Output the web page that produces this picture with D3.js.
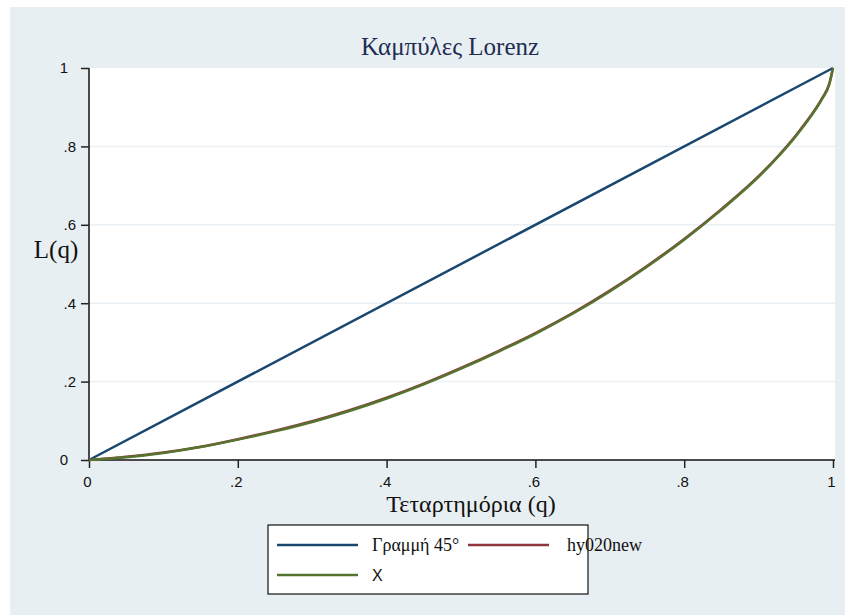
<!DOCTYPE html>
<html><head><meta charset="utf-8">
<script src="https://cdn.jsdelivr.net/npm/d3@7"></script>
<style>body{margin:0;background:#fff}svg{display:block}</style>
</head><body>
<script>
const qValues = [0,0.05,0.1,0.15,0.2,0.25,0.3,0.35,0.4,0.45,0.5,0.55,0.6,0.65,0.7,0.75,0.8,0.85,0.9,0.925,0.95,0.97,0.985,0.995,1];
const lineValues45 = [0,1];
const hy020newValues = [0,0.008,0.019,0.034,0.053,0.075,0.099,0.127,0.159,0.195,0.235,0.278,0.324,0.375,0.432,0.495,0.564,0.64,0.724,0.773,0.828,0.878,0.922,0.96,1];
const xValues = [0,0.007,0.018,0.033,0.052,0.073,0.097,0.125,0.157,0.193,0.233,0.276,0.322,0.373,0.43,0.493,0.562,0.638,0.722,0.771,0.826,0.876,0.92,0.958,1];
const tickValues = [0,0.2,0.4,0.6,0.8,1];
const tickLabels = ["0",".2",".4",".6",".8","1"];
const seriesNames = ["Γραμμή 45°","hy020new","X"];
const colors = ["#1a476f","#90353b","#55752f"];

const W=845,H=615;
const serif="'Liberation Serif','Times New Roman',serif";
const sans="'Liberation Sans',Arial,sans-serif";
const svg=d3.select("body").append("svg").attr("width",W).attr("height",H);
svg.append("rect").attr("x",10).attr("y",7).attr("width",W-10).attr("height",H-7).attr("fill","#e8eff2");

const x=d3.scaleLinear().domain([0,1]).range([89,833]);
const y=d3.scaleLinear().domain([0,1]).range([460,68]);

svg.append("rect").attr("x",89).attr("y",68).attr("width",746).attr("height",392).attr("fill","#fff");
svg.append("g").selectAll("line").data(tickValues.filter(v=>v>0&&v<1)).join("line")
  .attr("x1",89).attr("x2",835).attr("y1",d=>y(d)).attr("y2",d=>y(d))
  .attr("stroke","#eaf0f3").attr("stroke-width",1.5);

const fmt=d=>tickLabels[tickValues.indexOf(d)];
const gy=svg.append("g").attr("transform","translate(89,0)")
  .call(d3.axisLeft(y).tickValues(tickValues).tickFormat(fmt).tickSize(8).tickPadding(5));
const gx=svg.append("g").attr("transform","translate(0,460)")
  .call(d3.axisBottom(x).tickValues(tickValues).tickFormat(fmt).tickSize(8).tickPadding(8));
[gy,gx].forEach(g=>{
  g.select(".domain").attr("stroke","#4a4a4a").attr("stroke-width",2);
  g.selectAll(".tick line").attr("stroke","#222").attr("stroke-width",1.5);
  g.selectAll(".tick text").attr("font-family",sans).attr("font-size",15).attr("fill","#111");
});
gy.selectAll(".tick text").filter(d=>d===0||d===1).attr("dx",-8);
gx.selectAll(".tick text").attr("dx",-2);
gy.select(".domain").attr("d","M0,460V68");
gx.select(".domain").attr("d","M89,0H835");

const line=d3.line().x(d=>x(d[0])).y(d=>y(d[1]));
const diag=lineValues45.map(v=>[v,v]);
const redPts=qValues.map((q,i)=>[q,hy020newValues[i]]);
const greenPts=qValues.map((q,i)=>[q,xValues[i]]);
const curve=d3.line().x(d=>x(d[0])).y(d=>y(d[1])).curve(d3.curveMonotoneX);
svg.append("path").attr("d",line(diag)).attr("fill","none").attr("stroke",colors[0]).attr("stroke-width",2.5);
svg.append("path").attr("d",curve(redPts)).attr("fill","none").attr("stroke",colors[1]).attr("stroke-width",2.5);
svg.append("path").attr("d",curve(greenPts)).attr("fill","none").attr("stroke",colors[2]).attr("stroke-width",2.5);

svg.append("text").attr("x",450).attr("y",55).attr("text-anchor","middle")
  .attr("font-family",serif).attr("font-size",25).attr("fill","#1e2d52").text("Καμπύλες Lorenz");
svg.append("text").attr("x",56).attr("y",258).attr("text-anchor","middle")
  .attr("font-family",serif).attr("font-size",25).attr("fill","#111").text("L(q)");
svg.append("text").attr("x",471).attr("y",512).attr("text-anchor","middle")
  .attr("font-family",serif).attr("font-size",24).attr("fill","#111").text("Τεταρτημόρια (q)");

const lg=svg.append("g");
lg.append("rect").attr("x",268).attr("y",525).attr("width",320).attr("height",69).attr("fill","#fff").attr("stroke","#111").attr("stroke-width",1.2);
const items=[{x:277,y:545,tx:372,font:serif,fs:18},
             {x:468,y:545,tx:567,font:serif,fs:18},
             {x:277,y:575,tx:372,font:sans,fs:16}];
items.forEach((it,i)=>{
  lg.append("line").attr("x1",it.x).attr("x2",it.x+81).attr("y1",it.y).attr("y2",it.y).attr("stroke",colors[i]).attr("stroke-width",2.5);
  lg.append("text").attr("x",it.tx).attr("y",it.y+6).attr("font-family",it.font).attr("font-size",it.fs).attr("fill","#111").text(seriesNames[i]);
});
</script>
</body></html>
